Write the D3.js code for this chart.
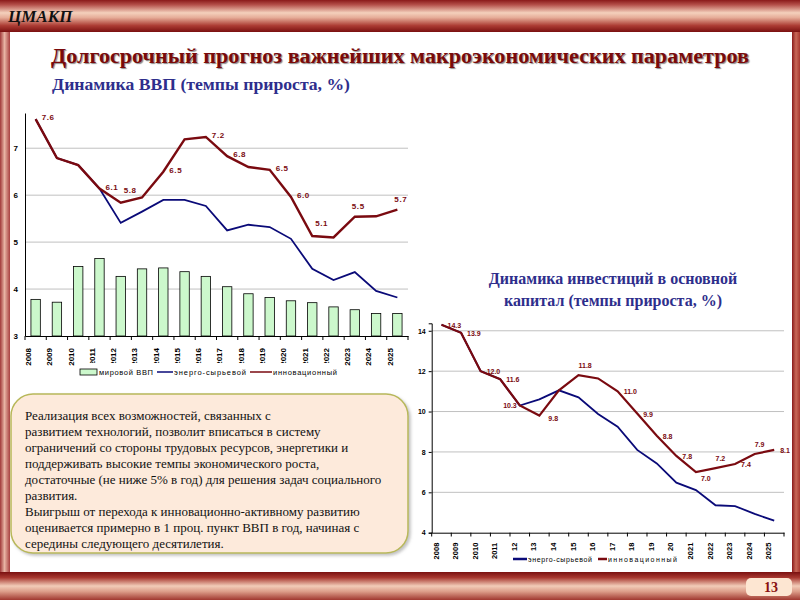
<!DOCTYPE html>
<html><head><meta charset="utf-8">
<script src="https://cdn.jsdelivr.net/npm/d3@7"></script>
<style>body{margin:0;background:#fff}svg{display:block}</style>
</head><body>
<script>
// ---------- DATA ----------
const years = ['2008','2009','2010','2011','2012','2013','2014','2015','2016','2017','2018','2019','2020','2021','2022','2023','2024','2025'];
// GDP growth, %
const worldGdp   = [3.78,3.72,4.48,4.65,4.27,4.43,4.45,4.37,4.27,4.05,3.90,3.82,3.75,3.71,3.62,3.56,3.48,3.48];
const gdpEnergy  = [7.62,6.79,6.64,6.14,5.41,5.65,5.90,5.90,5.77,5.25,5.37,5.32,5.07,4.43,4.19,4.36,3.96,3.82];
const gdpInnov   = [7.62,6.79,6.64,6.14,5.84,5.95,6.50,7.19,7.24,6.83,6.60,6.54,5.96,5.13,5.10,5.54,5.55,5.69];
const gdpLabelYears = ['2008','2011','2012','2014','2016','2017','2019','2020','2021','2023','2025'];
const gdpTicks = [3,4,5,6,7];
// Investment growth, %
const invEnergy  = [14.3,13.9,12.0,11.6,10.3,10.6,11.05,10.7,9.88,9.25,8.1,7.43,6.48,6.11,5.36,5.32,4.93,4.6];
const invInnov   = [14.3,13.9,12.0,11.6,10.3,9.8,11.05,11.8,11.64,11.0,9.9,8.8,7.8,7.0,7.2,7.4,7.9,8.1];
const invLabelYears = ['2008','2009','2010','2011','2012','2013','2015','2017','2018','2019','2020','2021','2022','2023','2024','2025'];
const invTicks = [4,6,8,10,12,14];
const legendNames = ['мировой ВВП','энерго-сырьевой','инновационный'];
const mainTitle = 'Долгосрочный прогноз важнейших макроэкономических параметров';
const gdpTitle = 'Динамика ВВП (темпы прироста, %)';
const invTitle = ['Динамика инвестиций в основной','капитал (темпы прироста, %)'];
const noteLines = [
 'Реализация всех возможностей, связанных с',
 'развитием технологий, позволит вписаться в систему',
 'ограничений со стороны трудовых ресурсов, энергетики и',
 'поддерживать высокие темпы экономического роста,',
 'достаточные (не ниже 5% в год) для решения задач социального',
 'развития.',
 'Выигрыш от перехода к инновационно-активному развитию',
 'оценивается примерно в 1 проц. пункт ВВП в год, начиная с',
 'середины следующего десятилетия.'
];
const pageNo = '13';
const brand = 'ЦМАКП';

// label placement (layout, not data)
const gdpLabelPos = {'2008':'r','2011':'r','2012':'ar','2014':'r','2016':'r','2017':'r','2019':'r','2020':'r','2021':'ar','2023':'a','2025':'a'};
const invLabelPos = {'2012':'l','2013':'r2','2015':'a','2021':'br','2022':'a','2024':'a'};

// ---------- DRAW ----------
const W=800,H=600;
const svg=d3.select('body').append('svg').attr('width',W).attr('height',H);
const defs=svg.append('defs');
function grad(id,x2,y2,stops){
  const g=defs.append('linearGradient').attr('id',id).attr('x1',0).attr('y1',0).attr('x2',x2).attr('y2',y2);
  stops.forEach(s=>g.append('stop').attr('offset',s[0]).attr('stop-color',s[1]));
}
grad('hdr',0,1,[[0,'#8a1a1a'],[0.15,'#b4504a'],[0.4,'#f4d0bc'],[0.55,'#e6ac98'],[0.8,'#ac3c34'],[1,'#7a1010']]);
grad('ftr',0,1,[[0,'#7a1010'],[0.2,'#a83830'],[0.5,'#f2ccb8'],[0.7,'#dc9c88'],[1,'#a03830']]);
grad('lft',1,0,[[0,'#a03838'],[0.45,'#e8b4a4'],[1,'#a84040']]);
grad('rgt',1,0,[[0,'#8a1a1a'],[0.5,'#c86858'],[1,'#a83830']]);
const sh=defs.append('filter').attr('id','sh').attr('x','-5%').attr('y','-5%').attr('width','115%').attr('height','120%');
sh.append('feDropShadow').attr('dx',2).attr('dy',2).attr('stdDeviation',1.5).attr('flood-color','#999').attr('flood-opacity',0.6);

svg.append('rect').attr('width',W).attr('height',H).attr('fill','#fff');
svg.append('rect').attr('x',0).attr('y',30).attr('width',10).attr('height',545).attr('fill','url(#lft)');
svg.append('rect').attr('x',792).attr('y',30).attr('width',8).attr('height',545).attr('fill','url(#rgt)');
svg.append('rect').attr('x',0).attr('y',0).attr('width',W).attr('height',32).attr('fill','url(#hdr)');
svg.append('rect').attr('x',0).attr('y',572).attr('width',W).attr('height',28).attr('fill','url(#ftr)');
svg.append('text').attr('x',8).attr('y',22).text(brand)
  .attr('font-family','Liberation Serif').attr('font-weight','bold').attr('font-style','italic').attr('font-size',17).attr('fill','#111');
svg.append('rect').attr('x',746).attr('y',578).attr('width',46).attr('height',18).attr('rx',5).attr('fill','#fde6d2');
svg.append('text').attr('x',771).attr('y',592).attr('text-anchor','middle').text(pageNo)
  .attr('font-family','Liberation Serif').attr('font-weight','bold').attr('font-size',14).attr('fill','#8a1010');

// titles
svg.append('text').attr('x',51).attr('y',63).text(mainTitle)
  .attr('font-family','Liberation Serif').attr('font-weight','bold').attr('font-size',20)
  .attr('textLength',698).attr('lengthAdjust','spacingAndGlyphs')
  .attr('fill','#7a0a0a').style('text-shadow','1px 1px 1px #888');
svg.append('text').attr('x',52).attr('y',90).text(gdpTitle)
  .attr('font-family','Liberation Serif').attr('font-weight','bold').attr('font-size',16)
  .attr('textLength',298).attr('lengthAdjust','spacingAndGlyphs').attr('fill','#2e2e8c');
invTitle.forEach((t,i)=>svg.append('text').attr('x',613).attr('y',284+i*22).attr('text-anchor','middle').text(t)
  .attr('font-family','Liberation Serif').attr('font-weight','bold').attr('font-size',16).attr('fill','#2e2e8c'));

const fmt=d3.format('.1f');
const RED='#7a0a10', BLUE='#0a0a78';

// ---------- GDP chart ----------
{
  const x=d3.scaleBand().domain(years).range([25,408]);
  const y=d3.scaleLinear().domain([3,7.75]).range([336,113]);
  const g=svg.append('g');
  g.selectAll('line.grid').data(gdpTicks.slice(1)).join('line')
    .attr('x1',25).attr('x2',408).attr('y1',d=>y(d)).attr('y2',d=>y(d)).attr('stroke','#c0c0c0').attr('stroke-width',1);
  g.selectAll('rect.bar').data(worldGdp).join('rect')
    .attr('x',(d,i)=>x(years[i])+x.bandwidth()/2-4.7).attr('width',9.4)
    .attr('y',d=>y(d)).attr('height',d=>y(3)-y(d))
    .attr('fill','#ccf8cc').attr('stroke','#000').attr('stroke-width',0.8);
  const ya=g.append('g').attr('transform','translate(25,0)')
    .call(d3.axisLeft(y).tickValues(gdpTicks).tickFormat(d3.format('d')).tickSize(0).tickPadding(7));
  ya.select('.domain').attr('stroke','#000');
  ya.selectAll('text').attr('font-family','Liberation Sans').attr('font-weight','bold').attr('font-size',8);
  const xa=g.append('g').attr('transform','translate(0,336)')
    .call(d3.axisBottom(x).tickSize(0).tickPadding(0));
  xa.select('.domain').attr('stroke','#000');
  xa.selectAll('.tick text').attr('transform','rotate(-90)').attr('text-anchor','end')
    .attr('x',-12).attr('y',-7.5).attr('dy','0.35em')
    .attr('font-family','Liberation Sans').attr('font-weight','bold').attr('font-size',8);
  g.selectAll('line.xt').data(years.concat(['end'])).join('line')
    .attr('x1',(d,i)=>25+i*x.step()).attr('x2',(d,i)=>25+i*x.step()).attr('y1',336).attr('y2',340).attr('stroke','#000');
  const ln=arr=>d3.line().x((d,i)=>x(years[i])+x.bandwidth()/2).y(d=>y(d))(arr);
  g.append('path').attr('d',ln(gdpEnergy)).attr('fill','none').attr('stroke',BLUE).attr('stroke-width',1.8);
  g.append('path').attr('d',ln(gdpInnov)).attr('fill','none').attr('stroke',RED).attr('stroke-width',2.4);
  gdpLabelYears.forEach(yr=>{
    const i=years.indexOf(yr), v=gdpInnov[i];
    const px=x(yr)+x.bandwidth()/2, py=y(v), p=gdpLabelPos[yr]||'r';
    let dx=6,dy=1,anc='start';
    if(p==='ar'){dx=3;dy=-10;}
    if(p==='a'){dx=-3;dy=-8;}
    g.append('text').attr('x',px+dx).attr('y',py+dy).text(fmt(v))
      .attr('font-family','Liberation Sans').attr('font-weight','bold').attr('font-size',8).attr('letter-spacing',0.6)
      .attr('fill',RED).attr('text-anchor',anc);
  });
  // legend
  const L=g.append('g');
  L.append('rect').attr('x',76).attr('y',363).attr('width',268).attr('height',17).attr('fill','#fff');
  L.append('rect').attr('x',80).attr('y',369).attr('width',17).attr('height',6).attr('fill','#ccf8cc').attr('stroke','#000').attr('stroke-width',0.8);
  L.append('line').attr('x1',157).attr('x2',173).attr('y1',372).attr('y2',372).attr('stroke',BLUE).attr('stroke-width',1.5);
  L.append('line').attr('x1',250).attr('x2',272).attr('y1',372).attr('y2',372).attr('stroke',RED).attr('stroke-width',1.5);
  [[99,0,54],[174,1,72],[273,2,64]].forEach(([lx,k,w])=>L.append('text').attr('x',lx).attr('y',375).text(legendNames[k])
     .attr('textLength',w).attr('lengthAdjust','spacing')
     .attr('font-family','Liberation Sans').attr('font-size',7.5).attr('fill','#000'));
}

// ---------- Investment chart ----------
{
  const x=d3.scaleBand().domain(years).range([431.7,784]);
  const y=d3.scaleLinear().domain([4,14.37]).range([532.7,323.3]);
  const g=svg.append('g');
  g.selectAll('line.grid').data(invTicks.slice(1)).join('line')
    .attr('x1',431.7).attr('x2',784).attr('y1',d=>y(d)).attr('y2',d=>y(d)).attr('stroke','#c0c0c0').attr('stroke-width',1);
  const ya=g.append('g').attr('transform','translate(431.7,0)')
    .call(d3.axisLeft(y).tickValues(invTicks).tickFormat(d3.format('d')).tickSize(3).tickPadding(3));
  ya.select('.domain').attr('stroke','#000');
  ya.selectAll('text').attr('font-family','Liberation Sans').attr('font-weight','bold').attr('font-size',7);
  const xa=g.append('g').attr('transform','translate(0,532.7)')
    .call(d3.axisBottom(x).tickSize(0).tickPadding(0));
  xa.select('.domain').attr('stroke','#000');
  xa.selectAll('.tick text').attr('transform','rotate(-90)').attr('text-anchor','end')
    .attr('x',-10).attr('y',-5.5).attr('dy','0.35em')
    .attr('font-family','Liberation Sans').attr('font-weight','bold').attr('font-size',7.5);
  g.selectAll('line.xt').data(years.concat(['end'])).join('line')
    .attr('x1',(d,i)=>431.7+i*x.step()).attr('x2',(d,i)=>431.7+i*x.step()).attr('y1',532.7).attr('y2',536.5).attr('stroke','#000');
  const ln=arr=>d3.line().x((d,i)=>x(years[i])+x.bandwidth()/2).y(d=>y(d))(arr);
  g.append('path').attr('d',ln(invEnergy)).attr('fill','none').attr('stroke',BLUE).attr('stroke-width',1.8);
  g.append('path').attr('d',ln(invInnov)).attr('fill','none').attr('stroke',RED).attr('stroke-width',2.2);
  invLabelYears.forEach(yr=>{
    const i=years.indexOf(yr), v=invInnov[i];
    const px=x(yr)+x.bandwidth()/2, py=y(v), p=invLabelPos[yr]||'r';
    let dx=6,dy=3,anc='start';
    if(p==='l'){dx=-3;dy=3;anc='end';}
    if(p==='br'){dx=5;dy=9;}
    if(p==='r2'){dx=9;dy=5;}
    if(p==='a'){dx=0;dy=-7;}
    g.append('text').attr('x',px+dx).attr('y',py+dy).text(fmt(v))
      .attr('font-family','Liberation Sans').attr('font-weight','bold').attr('font-size',7)
      .attr('fill',RED).attr('text-anchor',anc);
  });
  const L=g.append('g');
  L.append('rect').attr('x',506).attr('y',551).attr('width',180).attr('height',16).attr('fill','#fff');
  L.append('line').attr('x1',513).attr('x2',527).attr('y1',559).attr('y2',559).attr('stroke',BLUE).attr('stroke-width',2.5);
  L.append('line').attr('x1',598).attr('x2',607).attr('y1',559).attr('y2',559).attr('stroke',RED).attr('stroke-width',2.5);
  [[528,1,64],[608,2,69]].forEach(([lx,k,w])=>L.append('text').attr('x',lx).attr('y',562).text(legendNames[k])
     .attr('textLength',w).attr('lengthAdjust','spacing')
     .attr('font-family','Liberation Sans').attr('font-size',7).attr('fill','#000'));
}

// ---------- note box ----------
{
  const g=svg.append('g');
  g.append('rect').attr('x',11).attr('y',394).attr('width',397).attr('height',159).attr('rx',22)
    .attr('fill','#fdeadb').attr('stroke','#b8b85a').attr('stroke-width',1.5).attr('filter','url(#sh)');
  g.selectAll('text.note').data(noteLines).join('text')
    .attr('x',25).attr('y',(d,i)=>420+i*16).text(d=>d)
    .attr('font-family','Liberation Serif').attr('font-size',13).attr('fill','#111');
}
</script>
</body></html>
